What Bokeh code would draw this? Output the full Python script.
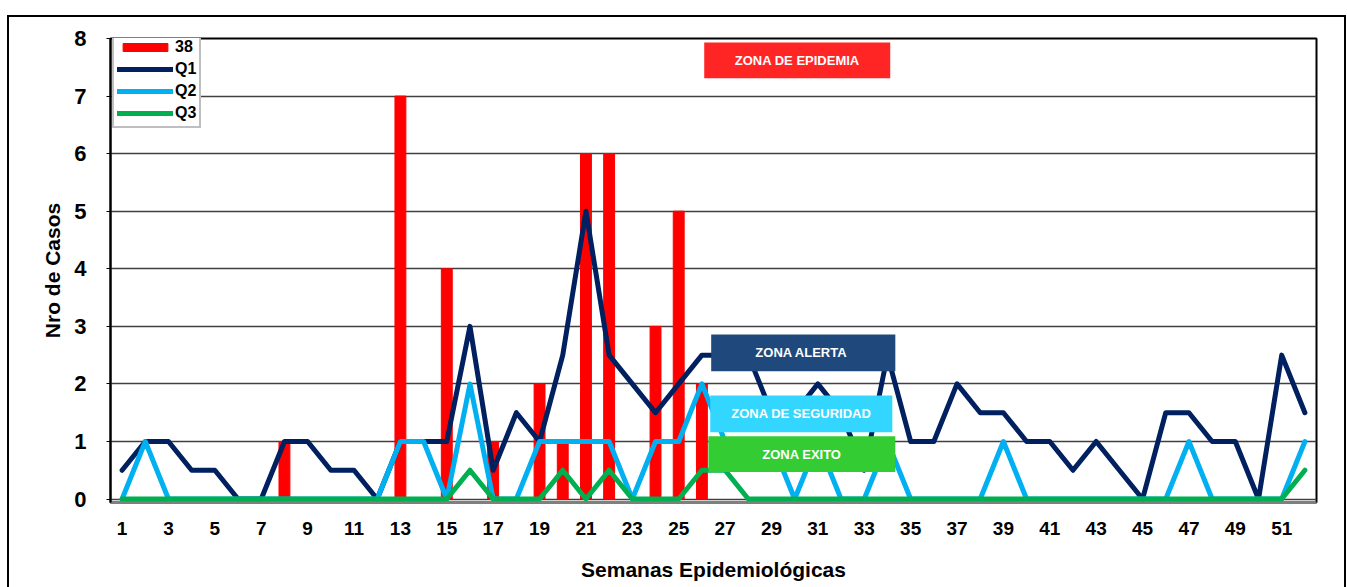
from bokeh.plotting import figure
from bokeh.models import Range1d, FixedTicker, BoxAnnotation, Label, Legend, LegendItem
from bokeh.embed import file_html
from bokeh.resources import INLINE

weeks = list(range(1, 53))
casos_weeks = [8, 13, 15, 17, 19, 20, 21, 22, 24, 25, 26]
casos_vals = [1, 7, 4, 1, 2, 1, 6, 6, 3, 5, 2]
q1 = [0.5, 1, 1, 0.5, 0.5, 0, 0, 1, 1, 0.5, 0.5, 0, 1, 1, 1, 3, 0.5, 1.5, 1, 2.5,
      5, 2.5, 2, 1.5, 2, 2.5, 2.5, 2.5, 1.5, 1.5, 2, 1.5, 0.5, 2.5, 1, 1, 2, 1.5, 1.5, 1,
      1, 0.5, 1, 0.5, 0, 1.5, 1.5, 1, 1, 0, 2.5, 1.5]
q2 = [0, 1, 0, 0, 0, 0, 0, 0, 0, 0, 0, 0, 1, 1, 0, 2, 0, 0, 1, 1,
      1, 1, 0, 1, 1, 2, 1, 1, 1, 0, 1, 0, 0, 1, 0, 0, 0, 0, 1, 0,
      0, 0, 0, 0, 0, 0, 1, 0, 0, 0, 0, 1]
q3 = [0, 0, 0, 0, 0, 0, 0, 0, 0, 0, 0, 0, 0, 0, 0, 0.5, 0, 0, 0, 0.5,
      0, 0.5, 0, 0, 0, 0.5, 0.5, 0, 0, 0, 0, 0, 0, 0, 0, 0, 0, 0, 0, 0,
      0, 0, 0, 0, 0, 0, 0, 0, 0, 0, 0, 0.5]
x_ticks = list(range(1, 53, 2))
y_ticks = list(range(0, 9))
zones = ["ZONA DE EPIDEMIA", "ZONA  ALERTA", "ZONA DE SEGURIDAD", "ZONA EXITO"]

FONT = "Liberation Sans"
NARROW = "'Liberation Sans Narrow', 'Liberation Sans', Arial"

p = figure(width=1339, height=572, output_backend="svg", toolbar_location=None,
           x_range=Range1d(0.5, 52.5), y_range=Range1d(-0.06, 8),
           min_border_left=101, min_border_right=32, min_border_top=21, min_border_bottom=87)
p.styles = {"border-top": "2px solid black", "border-left": "2px solid black",
            "border-right": "2px solid black", "margin-left": "7px", "margin-top": "15px",
            "box-sizing": "border-box"}
p.background_fill_color = "white"
p.border_fill_color = "white"
p.outline_line_color = "black"
p.outline_line_width = 2

bars = p.vbar(x=casos_weeks, top=casos_vals, width=0.47, bottom=0, color="#FF0000")
l1 = p.line(weeks, q1, line_color="#002060", line_width=5, line_join="round", line_cap="round")
l2 = p.line(weeks, q2, line_color="#00B0F0", line_width=5, line_join="round", line_cap="round")
l3 = p.line(weeks, q3, line_color="#00B050", line_width=5, line_join="round", line_cap="round")

legend = Legend(items=[LegendItem(label="38", renderers=[bars]),
                       LegendItem(label="Q1", renderers=[l1]),
                       LegendItem(label="Q2", renderers=[l2]),
                       LegendItem(label="Q3", renderers=[l3])],
                location=(2, 374))
legend.glyph_width = 56
legend.glyph_height = 10
legend.label_height = 20
legend.spacing = 2
legend.padding = 3
legend.margin = 0
legend.label_standoff = 2
legend.label_text_font = NARROW
legend.label_text_font_style = "bold"
legend.label_text_font_size = "16px"
legend.label_text_color = "black"
legend.border_line_color = "#808080"
legend.border_line_width = 2
legend.background_fill_alpha = 1
p.add_layout(legend, "center")

# Grid / axes
p.xgrid.grid_line_color = None
p.ygrid.ticker = FixedTicker(ticks=y_ticks)
p.ygrid.grid_line_color = "#404040"
p.ygrid.grid_line_width = 1.5

p.xaxis.ticker = FixedTicker(ticks=x_ticks)
p.xaxis.axis_line_color = "#808080"
p.xaxis.axis_line_width = 2
p.xaxis.major_tick_line_color = None
p.xaxis.minor_tick_line_color = None
p.xaxis.major_label_standoff = 13
p.xaxis.major_label_text_font = NARROW
p.xaxis.major_label_text_font_style = "bold"
p.xaxis.major_label_text_font_size = "19px"
p.xaxis.major_label_text_color = "black"
p.xaxis.axis_label = "Semanas Epidemiológicas"
p.xaxis.axis_label_text_font = FONT
p.xaxis.axis_label_text_font_style = "bold"
p.xaxis.axis_label_text_font_size = "21px"
p.xaxis.axis_label_text_color = "black"
p.xaxis.axis_label_standoff = 20

p.yaxis.ticker = FixedTicker(ticks=y_ticks)
p.yaxis.axis_line_color = "black"
p.yaxis.axis_line_width = 2
p.yaxis.major_tick_out = 4
p.yaxis.major_tick_in = 0
p.yaxis.minor_tick_line_color = None
p.yaxis.major_label_standoff = 20
p.yaxis.major_label_text_font = FONT
p.yaxis.major_label_text_font_style = "bold"
p.yaxis.major_label_text_font_size = "22px"
p.yaxis.major_label_text_color = "black"
p.yaxis.axis_label = "Nro de Casos"
p.yaxis.axis_label_text_font = FONT
p.yaxis.axis_label_text_font_style = "bold"
p.yaxis.axis_label_text_font_size = "21px"
p.yaxis.axis_label_text_color = "black"
p.yaxis.axis_label_standoff = 7

# Zone boxes
zone_boxes = [
    (26.10, 34.12, 7.31, 7.93, "#FF2525"),
    (26.40, 34.34, 2.22, 2.86, "#1F497D"),
    (26.36, 34.21, 1.16, 1.80, "#33D6FF"),
    (26.28, 34.34, 0.47, 1.09, "#33CC33"),
]
for (l, r, b, t, c), name in zip(zone_boxes, zones):
    p.add_layout(BoxAnnotation(left=l, right=r, bottom=b, top=t, fill_color=c,
                               fill_alpha=1, line_color=None))
    p.add_layout(Label(x=(l + r) / 2, y=(b + t) / 2, text=name, text_align="center",
                       text_baseline="middle", text_color="white", text_font=FONT,
                       text_font_style="bold", text_font_size="13px"))

open("out.html", "w").write(file_html(p, INLINE))
